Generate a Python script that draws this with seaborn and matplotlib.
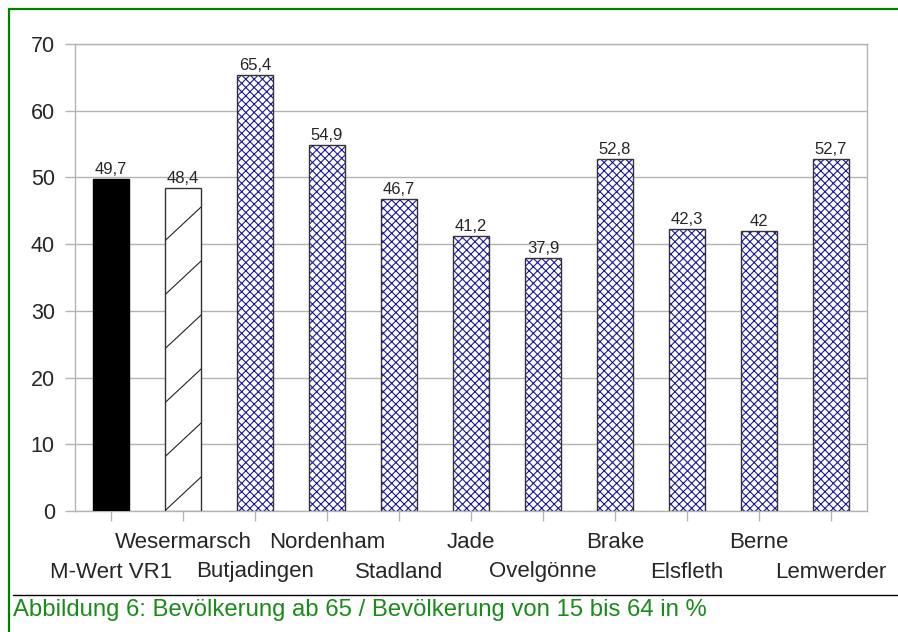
import numpy as np
import pandas as pd
import matplotlib
matplotlib.use("Agg")
import matplotlib.pyplot as plt
import seaborn as sns
from matplotlib.lines import Line2D
from matplotlib.patches import Rectangle
from matplotlib.transforms import IdentityTransform

# data
regions = ["M-Wert VR1", "Wesermarsch", "Butjadingen", "Nordenham", "Stadland", "Jade",
           "Ovelgönne", "Brake", "Elsfleth", "Berne", "Lemwerder"]
values = [49.7, 48.4, 65.4, 54.9, 46.7, 41.2, 37.9, 52.8, 42.3, 42, 52.7]
y_ticks = [0, 10, 20, 30, 40, 50, 60, 70]
caption = "Abbildung 6: Bevölkerung ab 65 / Bevölkerung von 15 bis 64 in %"

GRID = "#b3b3b3"
NAVY = "#1a1a99"
GREEN = "#008000"

sns.set_theme(style="white")
plt.rcParams["font.family"] = ["Liberation Sans", "DejaVu Sans"]
plt.rcParams["hatch.linewidth"] = 0.8

df = pd.DataFrame({"region": regions, "value": values})

fig = plt.figure(figsize=(8.98, 6.32), dpi=100)
ax = fig.add_axes([75 / 898, 1 - 511 / 632, 792 / 898, 467 / 632])

sns.barplot(data=df, x="region", y="value", hue="region", legend=False,
            palette=["white"] * len(regions), width=0.51, ax=ax, zorder=3)

patches = list(ax.patches[:len(regions)])
for i, p in enumerate(patches):
    p.set_linewidth(1.0)
    if i == 0:
        p.set_facecolor("black")
        p.set_edgecolor("black")
    elif i == 1:
        p.set_facecolor("white")
        p.set_edgecolor("#333333")
    else:
        # hatch takes the edge colour, so draw the dark outline on top separately
        p.set_facecolor("white")
        p.set_edgecolor(NAVY)
        p.set_hatch("xxxx")
        p.set_linewidth(0)
        ax.add_patch(Rectangle(p.get_xy(), p.get_width(), p.get_height(), fill=False,
                               edgecolor="#333333", linewidth=1.0, zorder=3.5))

ax.set_ylim(0, 70)
ax.set_xlim(-0.5, len(regions) - 0.5)
ax.set_yticks(y_ticks)
ax.set_yticklabels([str(t) for t in y_ticks], fontsize=15.5)
ax.yaxis.grid(True, color=GRID, linewidth=1.0, zorder=0)
ax.set_axisbelow(True)
ax.set_xlabel("")
ax.set_ylabel("")
ax.set_xticks(range(len(regions)))
ax.set_xticklabels([])
ax.tick_params(axis="both", direction="out", length=7.5, width=1.0, color=GRID,
               left=True, bottom=True, pad=7)
for s in ax.spines.values():
    s.set_color(GRID)
    s.set_linewidth(1.0)

# alternating category labels below the axis
xt = ax.get_xaxis_transform()
for i, name in enumerate(regions):
    off = -61 if i % 2 == 0 else -31
    ax.annotate(name, xy=(i, 0), xycoords=xt, xytext=(0, off * 0.72),
                textcoords="offset points", ha="center", va="center", fontsize=16)

# value labels above bars
for i, v in enumerate(values):
    lab = f"{v:g}".replace(".", ",")
    ax.annotate(lab, xy=(i, v), xytext=(0, 1.5), textcoords="offset points",
                ha="center", va="bottom", fontsize=12)

# sparse diagonal hatch on the Wesermarsch bar
fig.canvas.draw()
bar = patches[1]
bb = bar.get_window_extent()
step = 54.0
slope = 33.3 / 35.7
y0 = bb.y0
while y0 < bb.y1:
    ln = Line2D([bb.x0, bb.x1], [y0, y0 + slope * bb.width],
                color="#222222", linewidth=0.8, zorder=4)
    ax.add_line(ln)
    ln.set_transform(IdentityTransform())
    ln.set_clip_path(bar)
    y0 += step

# outer frame and caption
fig.add_artist(Line2D([9 / 898, 9 / 898], [0, 1 - 9 / 632], transform=fig.transFigure,
                      color=GREEN, linewidth=1.6))
fig.add_artist(Line2D([9 / 898, 1], [1 - 9 / 632, 1 - 9 / 632], transform=fig.transFigure,
                      color=GREEN, linewidth=1.6))
fig.add_artist(Line2D([13 / 898, 1], [1 - 595 / 632, 1 - 595 / 632], transform=fig.transFigure,
                      color="black", linewidth=1.0))
fig.text(13 / 898, 1 - 610 / 632, caption, color="#1a8a1a", fontsize=17.2,
         ha="left", va="center")

fig.savefig("out.png", dpi=100)
